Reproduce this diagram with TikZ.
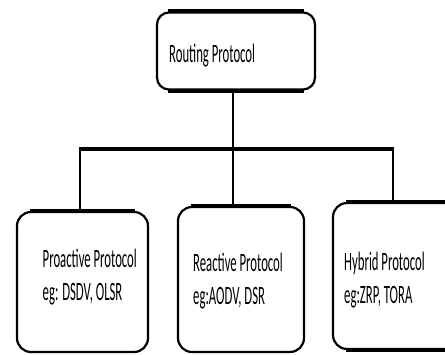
\documentclass[tikz,border=0pt]{standalone}
\usepackage{fontspec}
\usepackage{tikz}
\usetikzlibrary{positioning}
\newfontfamily\boxfont[FakeStretch=0.48]{Carlito}
\tikzstyle{roundBox} = [shape=rectangle, draw=black, line width=2.2pt,
	fill=white, rounded corners=14pt]
\tikzstyle{TopBox} = [roundBox, rounded corners=12pt, minimum width=158pt, minimum height=77pt]
\tikzstyle{ChildBox} = [roundBox, minimum width=131pt, minimum height=140pt]
\tikzstyle{boxText} = [font=\boxfont\fontsize{26.5}{33}\selectfont, text=black,
	align=left, inner sep=0pt, anchor=base west]
\tikzstyle{heavyEdge} = [line width=4pt]
\tikzstyle{thinLine} = [line width=2pt]

\begin{document}
\begin{tikzpicture}[x=1pt, y=-1pt]
  \useasboundingbox (0,0) rectangle (445,354);
  \clip (0,0) rectangle (445,354);

  \node (ROUT) [TopBox] at (236,51) {};
  \node (PRO) [ChildBox] at (82.5,282) {};
  \node (REA) [ChildBox, minimum width=126pt, minimum height=145pt] at (241,279.5) {};
  \node (HYB) [ChildBox, minimum width=137pt, minimum height=146pt] at (401.5,276) {};

  % heavier top and bottom strokes
  \draw[heavyEdge] ([xshift=12pt]ROUT.north west) -- ([xshift=-12pt]ROUT.north east);
  \draw[heavyEdge] ([xshift=12pt]ROUT.south west) -- ([xshift=-12pt]ROUT.south east);
  \draw[heavyEdge] ([xshift=14pt]PRO.north west) -- ([xshift=-14pt]PRO.north east);
  \draw[heavyEdge] ([xshift=14pt]REA.north west) -- ([xshift=-14pt]REA.north east);
  \draw[heavyEdge] ([xshift=14pt]HYB.north west) -- (HYB.north east);
  \draw[heavyEdge] ([xshift=14pt]HYB.south west) -- (HYB.south east);

  % base anchor sits on the last line
  \node (Rout) [boxText] at (169,62) {Routing Protocol};
  \node (Pro) [boxText] at (42.5,300) {Proactive Protocol\\eg: DSDV, OLSR};
  \node (Rea) [boxText] at (193,304) {Reactive Protocol\\eg:AODV, DSR};
  \node (Hyb) [boxText] at (344,303) {Hybrid Protocol\\eg:ZRP, TORA};

  \coordinate (hub) at (232.5,149);
  \coordinate (barL) at (80,149);
  \coordinate (barR) at (393,149);

  \draw[thinLine] (ROUT.south -| hub) -- (hub |- REA.north);
  \draw[thinLine] (barL) -- (barL |- PRO.north);
  \draw[thinLine] (barR) -- (barR |- HYB.north);
  \draw[heavyEdge] ([xshift=-1pt]barL) -- ([xshift=1pt]barR);

\end{tikzpicture}
\end{document}
